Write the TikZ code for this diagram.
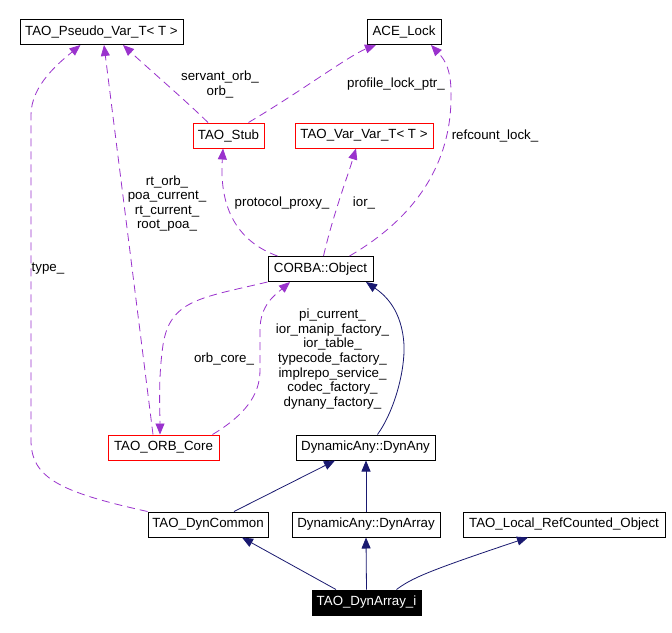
\documentclass[tikz,border=0pt]{standalone}
\usepackage{fontspec}
\setmainfont{Liberation Sans}
\usetikzlibrary{arrows.meta,calc}
\definecolor{dep}{HTML}{9A32CD}
\definecolor{inh}{HTML}{191970}
\begin{document}
\begin{tikzpicture}[x=1pt,y=-1pt,
  every node/.style={font=\fontsize{13.3}{14.6}\selectfont},
  cls/.style={draw=black,line width=1pt,inner sep=0pt,minimum height=25pt,fill=white},
  redcls/.style={cls,draw=red},
  hlcls/.style={cls,fill=black,text=white},
  lbl/.style={inner sep=0pt,align=center},
  useedge/.style={draw=dep,line width=0.8pt,dash pattern=on 8pt off 5pt,-{Triangle[length=11pt,width=9pt]},fill=none},
  inhedge/.style={draw=inh,line width=0.8pt,-{Triangle[length=11pt,width=9pt]}}]
\useasboundingbox (0,0) rectangle (672,632);
\fill[white] (0,0) rectangle (672,632);
% nodes
\node[cls,minimum width=163pt] (pseudo) at (101.5,32) {TAO\_Pseudo\_Var\_T< T >};
\node[cls,minimum width=74pt] (acelock) at (404,32) {ACE\_Lock};
\node[redcls,minimum width=71pt] (stub) at (228.5,135.5) {TAO\_Stub};
\node[redcls,minimum width=138pt] (varvar) at (364,135.5) {TAO\_Var\_Var\_T< T >};
\node[cls,minimum width=105pt] (corba) at (320.5,269) {CORBA::Object};
\node[redcls,minimum width=111pt] (orbcore) at (163.5,447.5) {TAO\_ORB\_Core};
\node[cls,minimum width=139pt] (dynany) at (365.5,447.5) {DynamicAny::DynAny};
\node[cls,minimum width=120pt] (dyncommon) at (208,524.5) {TAO\_DynCommon};
\node[cls,minimum width=148pt] (dynarray) at (366,524.5) {DynamicAny::DynArray};
\node[cls,minimum width=202pt] (localref) at (564,524.5) {TAO\_Local\_RefCounted\_Object};
\node[hlcls,minimum width=109pt] (dynarrayi) at (366.5,602.5) {TAO\_DynArray\_i};
% usage edges
\draw[useedge] (dyncommon.north west) .. controls (60,492) and (31,478) .. (31,440) -- (31,115) .. controls (31,85) and (60,62) .. ([xshift=-21]pseudo.south);
\draw[useedge] ([xshift=-10.5]orbcore.north) -- ([xshift=2.5]pseudo.south);
\draw[useedge] (corba.south west) .. controls (200,298) and (170,300) .. (163,345) .. controls (158,380) and (160,410) .. ([xshift=-3.5]orbcore.north);
\draw[useedge] ([xshift=-7]orbcore.north east) .. controls (245,415) and (260,395) .. (260,370) -- (260,330) .. controls (260,305) and (275,295) .. ([xshift=-30.5]corba.south);
\draw[useedge] ([xshift=-20.5]stub.north) .. controls (185,100) and (150,70) .. ([xshift=21.5]pseudo.south);
\draw[useedge] ([xshift=20]stub.north) .. controls (300,92) and (350,55) .. ([xshift=-28]acelock.south);
\draw[useedge] ([xshift=29]corba.north) .. controls (420,215) and (450,160) .. (451,100) .. controls (452,70) and (445,60) .. ([xshift=27]acelock.south);
\draw[useedge] ([xshift=-43]corba.north) .. controls (228,238) and (220,195) .. ([xshift=-5.5]stub.south);
\draw[useedge] ([xshift=3]corba.north) .. controls (333,215) and (348,175) .. ([xshift=-8]varvar.south);
% inheritance edges
\draw[inhedge] ([xshift=12]dynany.north) .. controls (395,410) and (405,370) .. (404,345) .. controls (402,310) and (385,295) .. ([xshift=45.5]corba.south);
\draw[inhedge] ([xshift=26]dyncommon.north) -- ([xshift=-30.5]dynany.south);
\draw[inhedge] (dynarray.north) -- (dynarray.north |- dynany.south);
\draw[inhedge] ([xshift=-30.5]dynarrayi.north) -- ([xshift=34]dyncommon.south);
\draw[inhedge] (dynarrayi.north) -- (dynarray.south);
\draw[inhedge] ([xshift=30]dynarrayi.north) .. controls (412,578) and (428,571) .. ([xshift=-36]localref.south);
% labels
\node[lbl] (l1) at (220,84.5) {servant\_orb\_\\orb\_};
\node[lbl] (l2) at (396,84) {profile\_lock\_ptr\_};
\node[lbl] (l3) at (495,136) {refcount\_lock\_};
\node[lbl] (l4) at (167,203.5) {rt\_orb\_\\poa\_current\_\\rt\_current\_\\root\_poa\_};
\node[lbl] (l5) at (282,203) {protocol\_proxy\_};
\node[lbl] (l6) at (364,203) {ior\_};
\node[lbl] (l7) at (48,269) {type\_};
\node[lbl] (l8) at (224,359) {orb\_core\_};
\node[lbl] (l9) at (332.5,359) {pi\_current\_\\ior\_manip\_factory\_\\ior\_table\_\\typecode\_factory\_\\implrepo\_service\_\\codec\_factory\_\\dynany\_factory\_};
\end{tikzpicture}
\end{document}
